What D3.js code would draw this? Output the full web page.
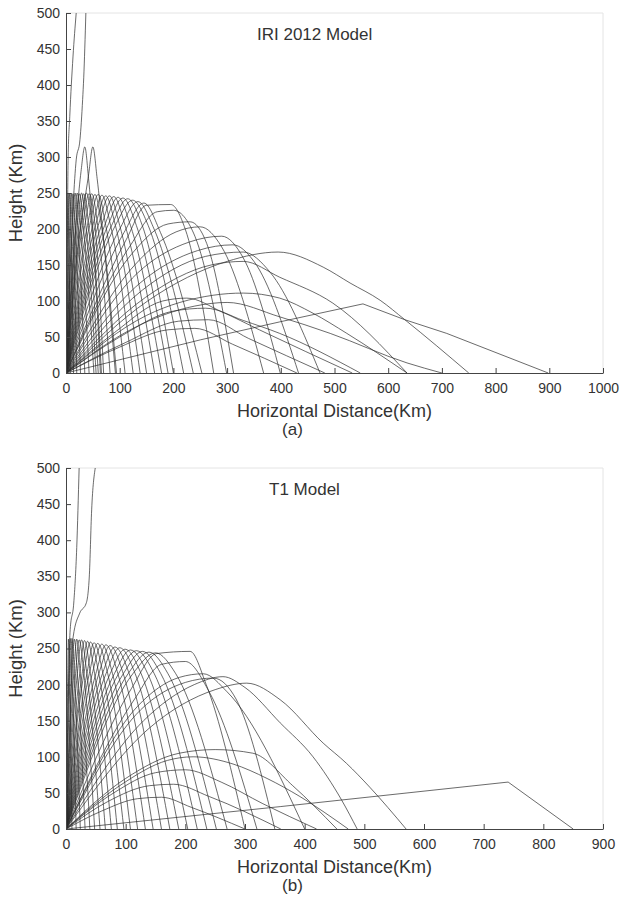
<!DOCTYPE html>
<html lang="en">
<head>
<meta charset="utf-8">
<title>Ray paths: IRI 2012 and T1 models</title>
<script src="https://cdn.jsdelivr.net/npm/d3@7"></script>
<style>
  body { margin: 0; background: #fff; }
  svg text { font-family: Arial, "Liberation Sans", sans-serif; fill: #333; }
</style>
</head>
<body>
<svg id="chart" width="620" height="904"></svg>
<script>
"use strict";

// tick labels
const xTicksIri = [0, 100, 200, 300, 400, 500, 600, 700, 800, 900, 1000];
const xTicksT1 = [0, 100, 200, 300, 400, 500, 600, 700, 800, 900];
const yTicks = [0, 50, 100, 150, 200, 250, 300, 350, 400, 450, 500];

// ray paths: [distance km, height km]
const iriRays = [
  // rays escaping the layer
  [[0,0],[2,150],[4,300],[7,356],[13,439],[19,500]],
  [[0,0],[8,150],[19,296],[26,324],[31,380],[33,410],[37,500]],
  // the two 315 km peaks
  [[0,0],[14,160],[28,280],[35,314],[42,270],[50,200],[66,0]],
  [[0,0],[22,170],[42,275],[50,314],[58,270],[68,200],[92,0]],
  // high-angle rays turning near 250 km
  [[0,0],[3,205],[4,249],[5,205],[8,0]],
  [[0,0],[5,205],[7,250],[9,205],[14,0]],
  [[0,0],[7,205],[10,250],[13,205],[20,0]],
  [[0,0],[9,205],[13,249],[17,205],[27,0]],
  [[0,0],[12,205],[17,250],[22,205],[35,0]],
  [[0,0],[15,205],[21,250],[27,205],[43,0]],
  [[0,0],[18,205],[25,249],[32,205],[52,0]],
  [[0,0],[21,205],[29,250],[37,205],[56,0]],
  [[0,0],[24,205],[33,249],[42,205],[60,0]],
  [[0,0],[27,205],[38,250],[48,205],[64,0]],
  [[0,0],[31,205],[43,249],[54,205],[70,0]],
  [[0,0],[35,205],[48,249],[59,205],[82,0]],
  [[0,0],[40,205],[54,248],[66,205],[94,0]],
  [[0,0],[44,205],[60,248],[74,205],[110,0]],
  [[0,0],[50,205],[67,247],[83,205],[125,0]],
  [[0,0],[55,205],[74,246],[92,205],[138,0]],
  [[0,0],[60,205],[81,246],[100,205],[150,0]],
  [[0,0],[66,205],[89,245],[110,205],[165,0]],
  [[0,0],[72,205],[97,244],[120,205],[178,0]],
  [[0,0],[78,205],[106,243],[131,205],[190,0]],
  [[0,0],[85,205],[115,242],[142,205],[200,0]],
  [[0,0],[92,205],[124,240],[153,205],[219,0]],
  [[0,0],[100,200],[134,238],[164,200],[237,0]],
  [[0,0],[108,195],[145,236],[176,195],[253,0]],
  // lower-angle F rays
  [[0,0],[112,185],[150,233],[195,234],[222,200],[275,0]],
  [[0,0],[118,175],[170,224],[200,226],[240,190],[299,0]],
  [[0,0],[122,165],[190,207],[231,210],[262,180],[312,0]],
  [[0,0],[128,150],[205,196],[250,203],[290,175],[368,0]],
  [[0,0],[132,138],[230,182],[290,190],[330,160],[399,0]],
  [[0,0],[138,125],[245,170],[311,178],[350,155],[433,0]],
  [[0,0],[142,115],[260,162],[330,168],[380,140],[473,0]],
  [[0,0],[148,105],[270,150],[330,155],[398,133],[497,97],[635,0]],
  [[0,0],[152,100],[300,155],[395,168],[479,147],[529,125],[585,101],[631,74],[750,0]],
  // low rays turning near 100 km
  [[0,0],[150,80],[274,108],[330,111],[398,104],[460,83],[523,55],[635,0]],
  [[0,0],[125,62],[240,93],[300,98],[398,78],[492,55],[635,14],[700,0]],
  [[0,0],[100,50],[200,86],[260,90],[330,73],[398,55],[548,0]],
  [[0,0],[90,56],[180,100],[225,104],[290,85],[360,60],[533,0]],
  [[0,0],[110,42],[210,72],[265,74],[340,48],[482,0]],
  [[0,0],[100,36],[190,60],[240,62],[310,40],[430,0]]
];
// long low ray with a sharp turn (a)
const iriLongRays = [
  [[0,0],[250,46],[398,71],[553,96],[631,74],[709,55],[898,0]]
];

// ray paths
const t1Rays = [
  [[0,0],[3,150],[7,276],[13,313],[18,390],[22,500]],
  [[0,0],[7,150],[12,266],[23,299],[34,313],[39,349],[43,442],[49,500]],
  [[0,0],[3,215],[4,263],[6,215],[10,0]],
  [[0,0],[5,215],[7,264],[10,215],[17,0]],
  [[0,0],[7,215],[10,264],[14,215],[24,0]],
  [[0,0],[10,215],[14,263],[19,215],[32,0]],
  [[0,0],[13,215],[18,263],[24,215],[40,0]],
  [[0,0],[16,215],[22,262],[30,215],[48,0]],
  [[0,0],[19,215],[26,262],[35,215],[57,0]],
  [[0,0],[23,215],[31,261],[41,215],[66,0]],
  [[0,0],[27,215],[36,260],[48,215],[76,0]],
  [[0,0],[30,215],[41,259],[55,215],[86,0]],
  [[0,0],[35,215],[47,258],[62,215],[97,0]],
  [[0,0],[39,215],[53,257],[70,215],[108,0]],
  [[0,0],[44,215],[60,256],[78,215],[120,0]],
  [[0,0],[50,215],[67,255],[87,215],[133,0]],
  [[0,0],[55,215],[74,254],[96,215],[146,0]],
  [[0,0],[61,215],[82,252],[106,215],[160,0]],
  [[0,0],[67,215],[90,251],[116,215],[174,0]],
  [[0,0],[74,215],[99,249],[126,215],[189,0]],
  [[0,0],[81,215],[108,248],[137,215],[204,0]],
  [[0,0],[88,215],[118,247],[148,215],[220,0]],
  [[0,0],[96,215],[128,246],[159,215],[236,0]],
  [[0,0],[104,215],[139,245],[171,215],[252,0]],
  [[0,0],[112,215],[150,244],[184,215],[270,0]],
  [[0,0],[110,195],[152,243],[208,246],[235,200],[300,0]],
  [[0,0],[115,180],[160,228],[200,232],[240,190],[320,0]],
  [[0,0],[125,165],[200,203],[247,209],[285,180],[350,0]],
  [[0,0],[120,170],[190,210],[230,215],[270,190],[400,0]],
  [[0,0],[130,150],[215,200],[263,211],[300,196],[359,147],[414,100],[462,40],[488,0]],
  [[0,0],[140,140],[250,193],[303,202],[359,179],[431,119],[470,91],[509,58],[570,0]],
  [[0,0],[100,70],[190,105],[250,110],[313,105],[380,60],[454,0]],
  [[0,0],[90,60],[170,95],[213,100],[280,90],[337,70],[392,45],[473,0]],
  [[0,0],[80,50],[150,78],[200,82],[260,65],[330,35],[420,0]],
  [[0,0],[70,38],[140,60],[180,62],[240,45],[360,0]],
  [[0,0],[60,25],[120,42],[160,44],[210,30],[300,0]]
];
// long low ray with a sharp turn (b)
const t1LongRays = [
  [[0,0],[359,31],[741,65],[850,0]]
];

const svg = d3.select("#chart");
const left = 66, right = 603;

drawPanel({ id: "a", rays: iriRays, longRays: iriLongRays, xTicks: xTicksIri, xMax: 1000,
  top: 13, bottom: 373, title: "IRI 2012 Model", titleX: 257, tag: "(a)" });
drawPanel({ id: "b", rays: t1Rays, longRays: t1LongRays, xTicks: xTicksT1, xMax: 900,
  top: 468, bottom: 829, title: "T1 Model", titleX: 269, tag: "(b)" });

function drawPanel(p) {
  let x = d3.scaleLinear().domain([0, p.xMax]).range([left, right]);
  let y = d3.scaleLinear().domain([0, 500]).range([p.bottom, p.top]);
  let g = svg.append("g").attr("id", "panel-" + p.id);

  g.append("clipPath").attr("id", "clip-" + p.id)
    .append("rect")
      .attr("x", left).attr("y", p.top)
      .attr("width", right - left).attr("height", p.bottom - p.top);

  // faint box on top and right
  g.append("path")
    .attr("d", `M${left},${p.top}H${right}V${p.bottom}`)
    .attr("fill", "none").attr("stroke", "#e4e4e4").attr("stroke-width", 1);

  let smooth = d3.line().x(d => x(d[0])).y(d => y(d[1])).curve(d3.curveMonotoneX);
  let straight = d3.line().x(d => x(d[0])).y(d => y(d[1]));

  let rayG = g.append("g").attr("clip-path", `url(#clip-${p.id})`)
    .attr("fill", "none")
    .attr("stroke", "#2b2b2b")
    .attr("stroke-width", 0.7)
    .attr("stroke-linejoin", "round");

  rayG.selectAll("path.ray")
    .data(p.rays)
    .join("path").attr("class", "ray")
      .attr("d", smooth);

  rayG.selectAll("path.long")
    .data(p.longRays)
    .join("path").attr("class", "long")
      .attr("d", straight);

  let xAxis = g.append("g")
    .attr("transform", `translate(0,${p.bottom})`)
    .call(d3.axisBottom(x).tickValues(p.xTicks).tickFormat(d3.format("d"))
      .tickSizeInner(-5).tickSizeOuter(0).tickPadding(10));
  let yAxis = g.append("g")
    .attr("transform", `translate(${left},0)`)
    .call(d3.axisLeft(y).tickValues(yTicks).tickFormat(d3.format("d"))
      .tickSizeInner(-5).tickSizeOuter(0).tickPadding(6));

  [xAxis, yAxis].forEach(a => {
    a.selectAll("path, line").attr("stroke", "#444");
    a.selectAll("text").attr("font-size", 14).attr("fill", "#333")
      .attr("font-family", "Arial, 'Liberation Sans', sans-serif");
  });

  g.append("text")
    .attr("x", p.titleX).attr("y", p.top + 27)
    .attr("font-size", 17)
    .text(p.title);

  g.append("text")
    .attr("x", (left + right) / 2).attr("y", p.bottom + 44)
    .attr("text-anchor", "middle").attr("font-size", 18)
    .text("Horizontal Distance(Km)");

  g.append("text")
    .attr("x", (left + right) / 2 - 42).attr("y", p.bottom + 62)
    .attr("text-anchor", "middle").attr("font-size", 17)
    .text(p.tag);

  g.append("text")
    .attr("transform", `translate(22,${(p.top + p.bottom) / 2}) rotate(-90)`)
    .attr("text-anchor", "middle").attr("font-size", 18.5)
    .text("Height (Km)");
}
</script>
</body>
</html>
